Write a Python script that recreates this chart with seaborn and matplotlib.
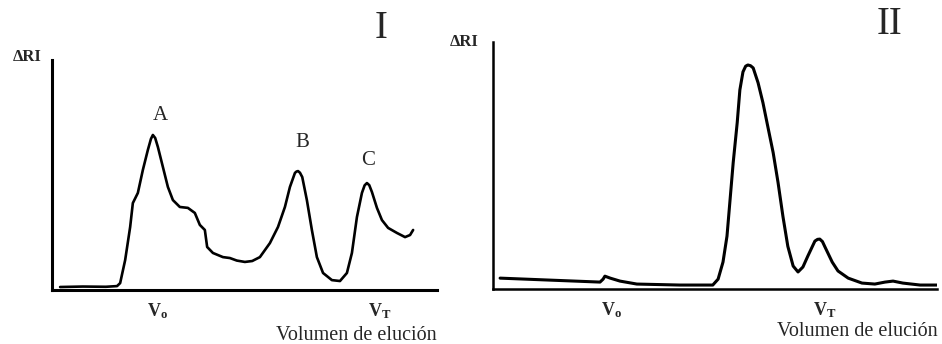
import matplotlib
matplotlib.use("Agg")
import matplotlib.pyplot as plt
import seaborn as sns
import pandas as pd

# Chromatogram I: elution volume (arbitrary units) vs refractive-index signal
vol_I = [2.1, 8.0, 14.0, 16.9, 17.7, 19.0, 20.3, 21.0, 22.3, 23.6, 24.9, 25.7,
         26.2, 26.8, 27.5, 28.8, 30.1, 31.4, 33.2, 35.3, 37.1, 38.4, 39.7, 40.3,
         41.8, 44.4, 46.2, 48.0, 50.1, 52.0, 54.0, 56.6, 58.7, 60.5, 61.8, 63.1,
         63.5, 63.9, 64.4, 65.0, 66.2, 67.5, 68.8, 70.4, 72.7, 74.8, 76.6, 77.9,
         79.2, 80.5, 81.2, 81.8, 82.4, 83.1, 84.4, 85.7, 87.3, 89.6, 91.7, 93.0,
         93.8]
ri_I = [1.3, 1.5, 1.4, 1.7, 3.0, 13.0, 27.4, 37.8, 42.2, 52.2, 60.9, 65.7,
        67.4, 66.1, 62.2, 53.5, 44.8, 39.1, 36.1, 35.7, 33.5, 28.3, 26.1, 18.7,
        16.1, 14.3, 13.9, 12.8, 12.2, 12.6, 14.3, 20.4, 27.4, 36.1, 44.8, 50.9,
        51.5, 51.7, 51.0, 49.1, 39.1, 26.1, 14.3, 7.4, 4.3, 3.9, 7.4, 16.1,
        31.7, 42.2, 45.5, 46.5, 45.6, 42.6, 35.7, 30.4, 27.0, 24.8, 23.0, 23.9,
        26.1]

# Chromatogram II
vol_II = [1.6, 12.8, 24.1, 24.8, 25.2, 26.4, 28.6, 32.4, 42.1, 49.5, 50.7, 51.8,
          52.7, 53.4, 54.1, 55.0, 55.6, 56.3, 56.9, 57.4, 58.0, 58.6, 59.7, 60.8,
          61.9, 63.1, 64.2, 65.3, 66.4, 67.6, 68.7, 69.8, 70.9, 72.5, 73.1, 73.6,
          74.2, 74.8, 76.4, 77.7, 80.0, 83.1, 86.0, 88.3, 90.1, 92.3, 96.2, 100.0]
ri_II = [4.4, 3.6, 2.8, 4.0, 5.2, 4.4, 3.2, 2.0, 1.6, 1.6, 4.0, 10.9,
         21.4, 36.3, 51.2, 67.3, 80.6, 87.9, 90.2, 90.7, 90.4, 89.5, 83.5, 75.4,
         65.7, 55.2, 43.1, 29.4, 17.3, 9.3, 6.9, 8.9, 13.3, 19.4, 20.1, 20.2,
         19.2, 16.9, 10.9, 7.3, 4.4, 2.4, 2.0, 2.8, 3.2, 2.4, 1.6, 1.6]

# Peak labels in chromatogram I
peak_names = ["A", "B", "C"]
peak_vol = [28.2, 64.9, 82.0]
peak_lab_y = [76.0, 64.0, 56.5]

# Marker volumes on the elution axis
marks_I = [27.3, 85.2]
marks_II = [26.8, 74.8]
mark_labels = [r"$\mathbf{V}_\mathbf{o}$", r"$\mathbf{V}_\mathbf{T}$"]

sns.set_style("white")
plt.rcParams["font.family"] = ["Liberation Serif", "DejaVu Serif"]
plt.rcParams["mathtext.fontset"] = "custom"
plt.rcParams["mathtext.rm"] = "Liberation Serif"
plt.rcParams["mathtext.bf"] = "Liberation Serif:bold"
plt.rcParams["mathtext.it"] = "Liberation Serif:italic"

fig = plt.figure(figsize=(9.42, 3.44), dpi=100)
ax1 = fig.add_axes([52 / 942, 54 / 344, 385 / 942, 230 / 344])
ax2 = fig.add_axes([493 / 942, 55 / 344, 444 / 942, 247 / 344])

df_I = pd.DataFrame({"vol": vol_I, "ri": ri_I})
df_II = pd.DataFrame({"vol": vol_II, "ri": ri_II})

sns.lineplot(data=df_I, x="vol", y="ri", ax=ax1, color="black", linewidth=1.9,
             sort=False, solid_joinstyle="round", solid_capstyle="round")
sns.lineplot(data=df_II, x="vol", y="ri", ax=ax2, color="black", linewidth=2.2,
             sort=False, solid_joinstyle="round", solid_capstyle="round")

ax1.set_xlim(0, 100)
ax1.set_ylim(0, 100)
ax2.set_xlim(0, 100)
ax2.set_ylim(0, 100)

for ax, marks, lw in ((ax1, marks_I, 2.2), (ax2, marks_II, 1.8)):
    sns.despine(ax=ax)
    for side in ("left", "bottom"):
        ax.spines[side].set_linewidth(lw)
        ax.spines[side].set_color("black")
    ax.set_xlabel("")
    ax.set_ylabel("")
    ax.set_yticks([])
    ax.set_xticks(marks)
    ax.set_xticklabels(mark_labels, fontsize=13)
    ax.tick_params(axis="x", length=0, pad=8)
    ax.patch.set_alpha(0)

for name, x, y in zip(peak_names, peak_vol, peak_lab_y):
    ax1.text(x, y, name, ha="center", va="center", fontsize=15)

fig.text(27 / 942, 1 - 57 / 344, "ΔRI", ha="center", va="center",
         fontsize=12, fontweight="bold")
fig.text(464 / 942, 1 - 42 / 344, "ΔRI", ha="center", va="center",
         fontsize=12, fontweight="bold")
fig.text(381 / 942, 1 - 29 / 344, "I", ha="center", va="center", fontsize=28)
fig.text(890 / 942, 1 - 24 / 344, "II", ha="center", va="center", fontsize=28)
fig.text(356 / 942, 1 - 335 / 344, "Volumen de elución", ha="center",
         va="center", fontsize=14.5)
fig.text(938 / 942, 1 - 332 / 344, "Volumen de elución", ha="right",
         va="center", fontsize=14.5)

fig.savefig("out.png", dpi=100, facecolor="white")
